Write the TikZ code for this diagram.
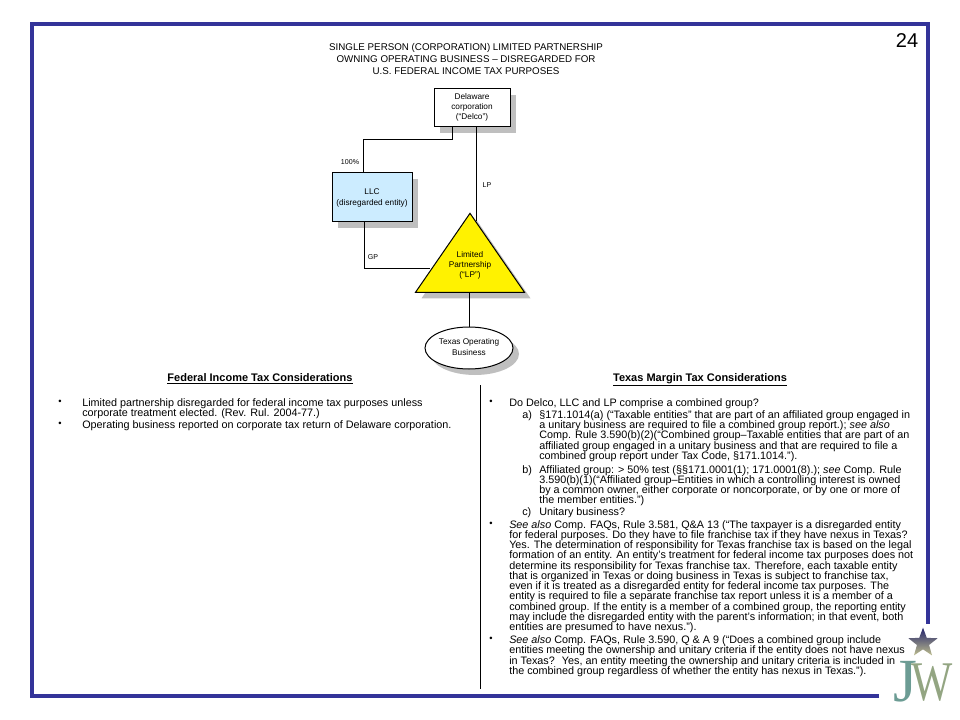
\documentclass[tikz,border=0pt]{standalone}
\usepackage{fontspec}
\setmainfont{Liberation Sans}
\newfontfamily\logofont{Liberation Serif}
\usetikzlibrary{shapes.geometric,shadows}
\definecolor{framecolor}{HTML}{333399}
\definecolor{llccolor}{HTML}{CCECFF}
\definecolor{shadowcolor}{HTML}{BFBFBF}
\definecolor{logoteal}{HTML}{6C9C94}
\definecolor{logoolive}{HTML}{93A582}
\definecolor{logotan}{HTML}{BDBD8E}
\tikzset{
	boxshadow/.style={drop shadow={shadow xshift=4.5pt,shadow yshift=-4.5pt,fill=shadowcolor,opacity=1}},
	entity/.style={draw=black,line width=.75pt,inner sep=0pt,boxshadow},
	link/.style={draw=black,line width=.75pt},
	chartlabel/.style={font=\fontsize{6.2}{7.6}\selectfont,align=center,inner sep=0pt},
	edgelabel/.style={font=\fontsize{5.3}{7}\selectfont,inner sep=0pt},
	bodytext/.style={font=\fontsize{8.1}{7.65}\selectfont,align=left,anchor=north west,inner sep=0pt},
	bulletmark/.style={font=\fontsize{7}{8}\selectfont,inner sep=0pt},
	headtext/.style={font=\fontsize{8.25}{9.6}\selectfont\bfseries,inner sep=0pt,anchor=base},
	logoletter/.style={inner sep=0pt,anchor=base}
}
\begin{document}
\begin{tikzpicture}[x=.75pt,y=-.75pt]
	\useasboundingbox (0,0) rectangle (960,720);
	\draw[framecolor,line width=3pt] (879,696) -- (32,696) -- (32,24) -- (928,24) -- (928,624);
	\node[font=\fontsize{15}{18}\selectfont,inner sep=0pt] (pagenum) at (907,41) {24};
	\node[font=\fontsize{7.33}{9}\selectfont,align=center,inner sep=0pt] (title) at (466,59) {SINGLE PERSON (CORPORATION) LIMITED PARTNERSHIP\\OWNING OPERATING BUSINESS – DISREGARDED FOR\\U.S. FEDERAL INCOME TAX PURPOSES};

	\node[entity,fill=white,minimum width=57pt,minimum height=28.5pt] (delco) at (472,108) {};
	\node[entity,fill=llccolor,minimum width=60pt,minimum height=36.75pt] (llc) at (372,197.5) {};
	\node[entity,fill=yellow,shape=isosceles triangle,shape border rotate=90,isosceles triangle stretches,minimum width=81.75pt,minimum height=59.25pt,anchor=apex] (lp) at (470,212) {};
	\node[entity,fill=white,shape=ellipse,minimum width=66pt,minimum height=31.5pt] (texas) at (469,348) {};
	\node[chartlabel] (delcotext) at (472,107) {Delaware\\corporation\\(“Delco”)};
	\node[chartlabel] (llctext) at (372,198) {LLC\\(disregarded entity)};
	\node[chartlabel] (lptext) at (470,265) {Limited\\Partnership\\(“LP”)};
	\node[chartlabel] (texastext) at (469,347) {Texas Operating\\Business};

	\coordinate (lpfromdelco) at (476,220.7);
	\coordinate (lpfromllc) at (430.3,269);
	\draw[link] ([xshift=-15pt]delco.south) |- (363,140) -- (llc.north -| 363,0);
	\draw[link] (delco.south -| lpfromdelco) -- (lpfromdelco);
	\draw[link] ([xshift=-6pt]llc.south) |- (lpfromllc);
	\draw[link] (texas.north) -- (texas.north |- lp.south);
	\node[edgelabel] (ownlabel) at (350,162) {100\%};
	\node[edgelabel] (lplabel) at (487,185) {LP};
	\node[edgelabel] (gplabel) at (373,257) {GP};

	\node[headtext] (fedhead) at (260,381) {\underline{Federal Income Tax Considerations}};
	\node[headtext] (texhead) at (700,381) {\underline{Texas Margin Tax Considerations}};
	\coordinate (dividertop) at (480,385);
	\coordinate (dividerend) at (480,689);
	\draw[link] (dividertop) -- (dividerend);

	\node[bulletmark] (fedbulleta) at (60,402.5) {•};
	\node[bodytext] (fedparaa) at (82,398.5) {Limited partnership disregarded for federal income tax purposes unless\\corporate treatment elected. (Rev. Rul. 2004-77.)};
	\node[bulletmark] (fedbulletb) at (60,424.5) {•};
	\node[bodytext] (fedparab) at (82,420.5) {Operating business reported on corporate tax return of Delaware corporation.};

	\node[bulletmark] (texbulleta) at (491,402.5) {•};
	\node[bodytext] (texparaa) at (509,398.5) {Do Delco, LLC and LP comprise a combined group?};
	\node[bodytext] (texmarka) at (522,410.5) {a)};
	\node[bodytext] (texitema) at (539,410.5) {§171.1014(a) (“Taxable entities” that are part of an affiliated group engaged in\\a unitary business are required to file a combined group report.); \textit{see also}\\Comp. Rule 3.590(b)(2)(“Combined group–Taxable entities that are part of an\\affiliated group engaged in a unitary business and that are required to file a\\combined group report under Tax Code, §171.1014.”).};
	\node[bodytext] (texmarkb) at (522,465) {b)};
	\node[bodytext] (texitemb) at (539,465) {Affiliated group: > 50\% test (§§171.0001(1); 171.0001(8).); \textit{see} Comp. Rule\\3.590(b)(1)(“Affiliated group–Entities in which a controlling interest is owned\\by a common owner, either corporate or noncorporate, or by one or more of\\the member entities.”)};
	\node[bodytext] (texmarkc) at (522,507) {c)};
	\node[bodytext] (texitemc) at (539,507) {Unitary business?};
	\node[bulletmark] (texbulletb) at (491,524) {•};
	\node[bodytext,font=\fontsize{8.1}{7.7}\selectfont] (texparab) at (509,520) {\textit{See also} Comp. FAQs, Rule 3.581, Q\&A 13 (“The taxpayer is a disregarded entity\\for federal purposes. Do they have to file franchise tax if they have nexus in Texas?\\Yes. The determination of responsibility for Texas franchise tax is based on the legal\\formation of an entity. An entity’s treatment for federal income tax purposes does not\\determine its responsibility for Texas franchise tax. Therefore, each taxable entity\\that is organized in Texas or doing business in Texas is subject to franchise tax,\\even if it is treated as a disregarded entity for federal income tax purposes. The\\entity is required to file a separate franchise tax report unless it is a member of a\\combined group. If the entity is a member of a combined group, the reporting entity\\may include the disregarded entity with the parent’s information; in that event, both\\entities are presumed to have nexus.”).};
	\node[bulletmark] (texbulletc) at (491,639) {•};
	\node[bodytext,font=\fontsize{8.1}{7.9}\selectfont] (texparac) at (509,635) {\textit{See also} Comp. FAQs, Rule 3.590, Q \& A 9 (“Does a combined group include\\entities meeting the ownership and unitary criteria if the entity does not have nexus\\in Texas?~ Yes, an entity meeting the ownership and unitary criteria is included in\\the combined group regardless of whether the entity has nexus in Texas.”).};

	\node[star,star points=5,star point ratio=2.4,minimum size=23pt,inner sep=0pt,top color=framecolor!70!black,bottom color=logotan] (logostar) at (923,643) {};
	\node[logoletter,font=\logofont\fontsize{46}{46}\selectfont,text=logoteal] (logoj) at (905,701) {J};
	\node[logoletter,font=\logofont\fontsize{42}{42}\selectfont,xscale=.78,text=logoolive] (logow) at (932,700) {W};
\end{tikzpicture}
\end{document}
